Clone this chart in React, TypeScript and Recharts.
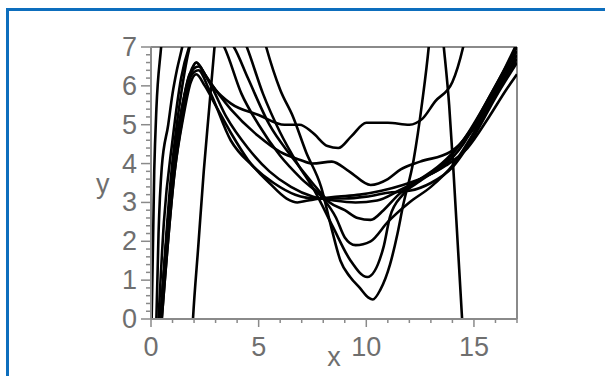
import React from 'react';
import { LineChart, Line, XAxis, YAxis, ReferenceLine } from 'recharts';

// curve samples (x, y pairs)
const flatX = [0.45, 1.0, 1.4, 1.8, 2.2, 2.7, 3.5, 4.5, 5.5, 6.5, 7.5, 8.5, 9.5, 10.5, 11.5, 12.5, 13.5, 14.5, 15.5, 16.3, 17];
const flatY = [0, 3.8, 5.3, 6.3, 6.5, 6.1, 5.2, 4.4, 3.8, 3.4, 3.15, 3.05, 3.0, 3.05, 3.3, 3.6, 4.0, 4.6, 5.4, 6.2, 6.9];

const plateauX = [0.5, 1.1, 1.5, 1.85, 2.1, 2.5, 3.0, 3.7, 5.0, 6.2, 6.9, 7.5, 8.2, 8.7, 9.3, 10.0, 11.0, 12.0, 12.6, 13.2, 14.0, 14.5, 14.8];
const plateauY = [0, 3.8, 5.3, 6.3, 6.6, 6.3, 5.9, 5.55, 5.25, 5.0, 5.0, 4.8, 4.45, 4.4, 4.7, 5.05, 5.05, 5.0, 5.15, 5.6, 6.1, 7.0, 7.8];

const waveX = [0.45, 1.0, 1.4, 1.8, 2.1, 2.6, 3.7, 5.0, 6.0, 6.9, 7.5, 8.4, 9.2, 10.2, 11.0, 11.6, 12.5, 13.9, 15.0, 16.0, 17.0];
const waveY = [0, 3.8, 5.3, 6.3, 6.6, 6.2, 5.4, 4.7, 4.3, 4.1, 4.0, 4.05, 3.8, 3.45, 3.6, 3.85, 4.05, 4.3, 4.9, 5.8, 6.7];

const deepX = [0, 0.03, 0.15, 0.25, 0.47, 0.7, 2.5, 4.5, 5.35, 6.0, 6.6, 7.2, 7.9, 8.4, 8.8, 9.25, 9.7, 10.1, 10.3, 10.65, 11.1, 11.45, 11.7, 12.2, 12.6, 12.9, 13.2];
const deepY = [-0.5, 0, 3.8, 5.4, 7, 8.5, 10, 9, 7, 5.9, 5.2, 4.3, 3.4, 2.3, 1.5, 1.08, 0.8, 0.55, 0.5, 0.75, 1.4, 2.2, 2.9, 4.1, 5.6, 7, 9];

const dip1X = [0.2, 0.25, 0.35, 0.5, 0.8, 1.0, 1.2, 1.45, 1.8, 3.0, 4.45, 5.2, 6.0, 6.8, 7.6, 8.45, 9.25, 10.05, 10.8, 11.1, 11.7, 12.5, 13.5, 14.5, 15.5, 16.3, 17];
const dip1Y = [-0.5, 0, 2.2, 3.9, 5.0, 5.8, 6.4, 7, 8, 8.5, 7, 5.8, 4.8, 4.0, 3.3, 2.37, 1.52, 1.08, 1.85, 2.63, 3.2, 3.55, 3.95, 4.6, 5.5, 6.3, 7.1];

const dip2X = [0.35, 0.6, 1.0, 1.4, 1.77, 2.5, 3.4, 4.2, 5.0, 6.0, 7.0, 8.0, 8.6, 9.0, 9.5, 10.2, 11.0, 12.0, 13.0, 14.0, 15.0, 16.0, 17.0];
const dip2Y = [0, 2.5, 4.6, 6.2, 7, 7.6, 7, 5.8, 5.0, 4.2, 3.6, 3.1, 2.6, 2.1, 1.9, 2.0, 2.5, 3.0, 3.4, 3.95, 4.8, 5.8, 6.8];

const dip3X = [0.45, 0.9, 1.4, 1.9, 2.4, 3.0, 3.85, 4.5, 5.5, 6.5, 7.5, 8.3, 9.0, 9.6, 10.2, 10.8, 11.5, 12.5, 13.5, 14.5, 15.5, 16.3, 17];
const dip3Y = [0, 3.5, 5.8, 7.2, 7.6, 7.4, 7, 6.2, 5.0, 4.2, 3.5, 3.0, 2.8, 2.6, 2.55, 2.8, 3.2, 3.6, 3.9, 4.5, 5.5, 6.3, 7.0];

const lowX = [0.5, 1.1, 1.5, 1.85, 2.1, 2.5, 3.0, 3.7, 4.5, 5.5, 6.3, 6.8, 7.3, 8.0, 9.0, 10.0, 11.0, 12.0, 13.0, 14.0, 15.0, 16.0, 17.0];
const lowY = [0, 3.8, 5.2, 6.1, 6.3, 6.0, 5.5, 4.8, 4.1, 3.5, 3.1, 3.0, 3.05, 3.1, 3.1, 3.15, 3.25, 3.3, 3.5, 3.9, 4.7, 5.7, 6.6];

const midX = [0.45, 1.0, 1.4, 1.8, 2.2, 2.7, 3.7, 4.7, 5.7, 6.7, 7.7, 8.7, 9.7, 10.7, 11.7, 12.7, 13.7, 14.7, 15.7, 16.5, 17];
const midY = [0, 3.8, 5.3, 6.2, 6.4, 5.9, 4.6, 3.95, 3.5, 3.2, 3.1, 3.15, 3.2, 3.3, 3.45, 3.65, 3.95, 4.4, 5.2, 5.9, 6.3];

const archX = [1.9, 1.95, 2.2, 2.45, 2.7, 2.95, 3.5, 8.0, 13.0, 13.6, 13.85, 14.05, 14.25, 14.45, 14.5];
const archY = [-0.5, 0, 1.9, 3.8, 5.4, 7, 10, 14, 10, 7, 5.5, 3.8, 1.9, 0, -0.5];

const yMajor = [0, 1, 2, 3, 4, 5, 6, 7];
const yTicks = [0, 0.2, 0.4, 0.6, 0.8, 1, 1.2, 1.4, 1.6, 1.8, 2, 2.2, 2.4, 2.6, 2.8, 3, 3.2, 3.4, 3.6, 3.8, 4, 4.2, 4.4, 4.6, 4.8, 5, 5.2, 5.4, 5.6, 5.8, 6, 6.2, 6.4, 6.6, 6.8, 7];
const xMajor = [0, 5, 10, 15];
const xTicks = [0, 1, 2, 3, 4, 5, 6, 7, 8, 9, 10, 11, 12, 13, 14, 15, 16, 17];

const curves = [
  [flatX, flatY],
  [plateauX, plateauY],
  [waveX, waveY],
  [deepX, deepY],
  [dip1X, dip1Y],
  [dip2X, dip2Y],
  [dip3X, dip3Y],
  [lowX, lowY],
  [midX, midY],
  [archX, archY],
];

const AXIS_X = 151;
const AXIS_Y = 319;
const GREY = '#8a8a8a';
const TEXT = '#6f6f6f';
const FONT = '"Liberation Sans", Arial, sans-serif';

const YTick = ({ y, payload }: any) => {
  const major = yMajor.includes(payload.value);
  return (
    <g>
      <line x1={AXIS_X - (major ? 10 : 5)} x2={AXIS_X} y1={y} y2={y} stroke={GREY} strokeWidth={1.5} />
      {major && (
        <text x={137} y={y} textAnchor="end" dominantBaseline="central" fontSize={27} fill={TEXT} fontFamily={FONT}>
          {payload.value}
        </text>
      )}
    </g>
  );
};

const XTick = ({ x, payload }: any) => {
  const major = xMajor.includes(payload.value);
  return (
    <g>
      <line x1={x} x2={x} y1={AXIS_Y} y2={AXIS_Y + (major ? 8 : 4)} stroke={GREY} strokeWidth={1.5} />
      {major && (
        <text x={x} y={347} textAnchor="middle" dominantBaseline="central" fontSize={27} fill={TEXT} fontFamily={FONT}>
          {payload.value}
        </text>
      )}
    </g>
  );
};

export default function App() {
  return (
    <div style={{ position: 'fixed', left: 0, top: 0, width: 605, height: 376, background: '#fff', overflow: 'hidden' }}>
      <div
        style={{
          position: 'absolute',
          left: 6,
          top: 8,
          width: 640,
          height: 420,
          border: '3px solid #0d6ebd',
          boxSizing: 'border-box',
        }}
      />
      <div style={{ position: 'absolute', left: 0, top: 0 }}>
        <LineChart width={605} height={376} margin={{ top: 47, right: 88, bottom: 0, left: 0 }}>
          <XAxis
            type="number"
            dataKey="x"
            domain={[0, 17]}
            ticks={xTicks}
            allowDataOverflow
            height={57}
            tick={<XTick />}
            tickLine={false}
            axisLine={{ stroke: GREY, strokeWidth: 2 }}
            label={{ value: 'x', position: 'insideBottom', offset: 10, fontSize: 27, fill: TEXT, fontFamily: FONT }}
          />
          <YAxis
            type="number"
            dataKey="y"
            domain={[0, 7]}
            ticks={yTicks}
            allowDataOverflow
            width={151}
            tick={<YTick />}
            tickLine={false}
            interval={0}
            axisLine={{ stroke: GREY, strokeWidth: 2 }}
            label={{ value: 'y', position: 'insideLeft', offset: 96, fontSize: 27, fill: TEXT, fontFamily: FONT }}
          />
          <ReferenceLine y={7} stroke={GREY} strokeWidth={2} />
          <ReferenceLine x={17} stroke={GREY} strokeWidth={2} />
          {curves.map(([xs, ys], i) => (
            <Line
              key={i}
              data={xs.map((x, j) => ({ x, y: ys[j] }))}
              dataKey="y"
              type="monotone"
              stroke="#000"
              strokeWidth={2.6}
              dot={false}
              isAnimationActive={false}
            />
          ))}
        </LineChart>
      </div>
    </div>
  );
}
